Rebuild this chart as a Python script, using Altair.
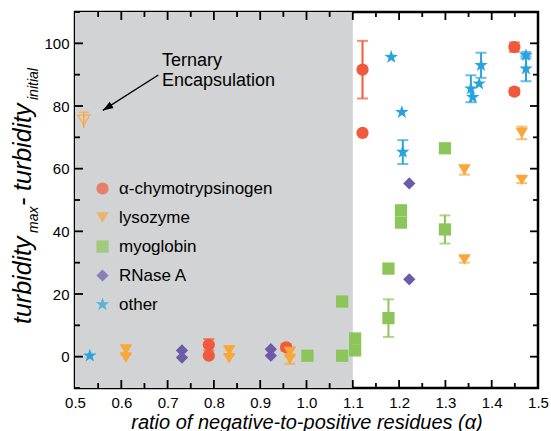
import altair as alt
import pandas as pd

# ---------------- data ----------------
series_names = ["α-chymotrypsinogen", "lysozyme", "myoglobin", "RNase A", "other"]
series_colors = ["#EF5A3C", "#F9A73B", "#8CC65A", "#6B5BA8", "#29A3DD"]

chymo_x = [0.789, 0.789, 0.956, 1.121, 1.121, 1.449, 1.449]
chymo_y = [3.8, 0.3, 3.0, 91.6, 71.4, 98.8, 84.6]
chymo_err = [1.8, 0, 1.0, 9.2, 0, 1.5, 1.0]

lyso_x = [0.610, 0.610, 0.833, 0.833, 0.964, 0.964, 1.341, 1.341, 1.465, 1.465]
lyso_y = [2.2, -0.3, 1.9, -0.5, 1.5, -0.8, 59.6, 31.0, 71.4, 56.4]
lyso_err = [1.5, 0, 1.5, 0, 1.5, 1.5, 1.5, 1.0, 2.0, 1.0]

myo_x = [1.002, 1.077, 1.077, 1.105, 1.105, 1.177, 1.177, 1.204, 1.204, 1.299, 1.299]
myo_y = [0.3, 0.3, 17.6, 5.8, 2.0, 28.1, 12.3, 46.7, 42.8, 66.5, 40.6]
myo_err = [0, 0, 0, 0, 0, 0, 6.0, 0, 0, 0, 4.5]

rnase_x = [0.731, 0.731, 0.923, 0.923, 1.222, 1.222]
rnase_y = [2.0, -0.3, 2.4, 0.3, 55.3, 24.7]
rnase_err = [0, 0, 0, 0, 0, 0]

other_x = [0.532, 1.183, 1.206, 1.208, 1.355, 1.359, 1.373, 1.377, 1.474, 1.474]
other_y = [0.3, 95.6, 78.0, 65.3, 85.5, 82.8, 87.1, 93.0, 96.2, 91.9]
other_err = [0, 0, 0, 3.8, 4.3, 0, 0, 4.0, 1.0, 4.0]

ternary_x = [0.519]
ternary_y = [75.5]
ternary_err = [2.5]

shade_start = [0.5]
shade_end = [1.1]

annot_text = ["Ternary", "Encapsulation"]
annot_x = [0.688, 0.688]
annot_y = [92.8, 86.4]

arrow_from_x = [0.680]
arrow_from_y = [89.9]
arrow_to_x = [0.560]
arrow_to_y = [78.6]

x_tick_labels = [0.5, 0.6, 0.7, 0.8, 0.9, 1.0, 1.1, 1.2, 1.3, 1.4, 1.5]
x_major_ticks = [0.6, 0.7, 0.8, 0.9, 1.0, 1.1, 1.2, 1.3, 1.4]
x_minor_ticks = [0.55, 0.65, 0.75, 0.85, 0.95, 1.05, 1.15, 1.25, 1.35, 1.45]
y_tick_labels = [0, 20, 40, 60, 80, 100]
y_minor_ticks = [-10, 10, 30, 50, 70, 90, 110]

# ---------------- build tables ----------------
star = ("M0,-1.15L0.27,-0.37L1.09,-0.36L0.44,0.14L0.68,0.93L0,0.46"
        "L-0.68,0.93L-0.44,0.14L-1.09,-0.36L-0.27,-0.37Z")
series_shapes = ["circle", "triangle-down", "square", "diamond", star]
series_sizes = [150, 150, 135, 240, 165]

rows = []
for name, xs, ys, es in zip(
    series_names,
    [chymo_x, lyso_x, myo_x, rnase_x, other_x],
    [chymo_y, lyso_y, myo_y, rnase_y, other_y],
    [chymo_err, lyso_err, myo_err, rnase_err, other_err],
):
    col = series_colors[series_names.index(name)]
    for x, y, e in zip(xs, ys, es):
        rows.append({"series": name, "x": x, "y": y, "err": e,
                     "lo": y - e, "hi": y + e, "hex": col})
pts = pd.DataFrame(rows)
errs = pts[pts["err"] > 0]

tern = pd.DataFrame({"x": ternary_x, "y": ternary_y,
                     "lo": [a - b for a, b in zip(ternary_y, ternary_err)],
                     "hi": [a + b for a, b in zip(ternary_y, ternary_err)]})
shade = pd.DataFrame({"x": shade_start, "x2": shade_end})
annot = pd.DataFrame({"t": annot_text, "x": annot_x, "y": annot_y})
arrow = pd.DataFrame({"x": arrow_from_x, "y": arrow_from_y,
                      "x2": arrow_to_x, "y2": arrow_to_y})

W, H = 463, 376
FONT = "Liberation Sans"

xs_ = alt.Scale(domain=[0.5, 1.5], nice=False, zero=False)
ys_ = alt.Scale(domain=[-10, 110], nice=False, zero=False)
xax = alt.Axis(values=x_tick_labels, format=".1f", ticks=False, domain=False,
               grid=False, labelPadding=7, labelFlush=False,
               title="ratio of negative-to-positive residues (α)",
               titleFontStyle="italic", titleFontWeight="normal",
               titleFontSize=20, titleFont=FONT, titleColor="black",
               titlePadding=2)
yax = alt.Axis(values=y_tick_labels, format="d", ticks=False, domain=False,
               grid=False, labelPadding=6, title=None, labelFlush=False)

X = lambda f="x": alt.X(f, type="quantitative", scale=xs_, axis=xax)
Y = lambda f="y": alt.Y(f, type="quantitative", scale=ys_, axis=yax)

shade_layer = alt.Chart(shade).mark_rect(color="#D1D3D4").encode(
    x=X("x"), x2="x2", y=alt.value(0), y2=alt.value(H))

err_rule = alt.Chart(errs).mark_rule(strokeWidth=2).encode(
    x=X(), y=Y("lo"), y2="hi", color=alt.Color("hex:N", scale=None))
cap_lo = alt.Chart(errs).mark_tick(orient="horizontal", size=11, thickness=2).encode(
    x=X(), y=Y("lo"), color=alt.Color("hex:N", scale=None))
cap_hi = alt.Chart(errs).mark_tick(orient="horizontal", size=11, thickness=2).encode(
    x=X(), y=Y("hi"), color=alt.Color("hex:N", scale=None))

legend = alt.Legend(title=None, orient="none", legendX=19, legendY=168,
                    labelFontSize=17, labelFont=FONT, labelColor="black",
                    symbolSize=140, rowPadding=11, labelOffset=8, padding=0,
                    symbolStrokeWidth=0, symbolOpacity=1, labelLimit=300)
points = alt.Chart(pts).mark_point(filled=True, opacity=1).encode(
    x=X(), y=Y(),
    color=alt.Color("series:N", scale=alt.Scale(domain=series_names, range=series_colors),
                    legend=legend),
    shape=alt.Shape("series:N", scale=alt.Scale(domain=series_names, range=series_shapes),
                    legend=legend),
    size=alt.Size("series:N", scale=alt.Scale(domain=series_names, range=series_sizes),
                  legend=None),
)

tern_rule = alt.Chart(tern).mark_rule(strokeWidth=1.5, color=series_colors[1]).encode(
    x=X(), y=Y("lo"), y2="hi")
tern_cap = alt.Chart(tern).mark_tick(orient="horizontal", size=10, thickness=1.5,
                                     color=series_colors[1]).encode(x=X(), y=Y("hi"))
tern_pt = alt.Chart(tern).mark_point(shape="triangle-down", size=140, filled=False,
                                     strokeWidth=1.6, color=series_colors[1]).encode(
    x=X(), y=Y())

annot_layer = alt.Chart(annot).mark_text(align="left", baseline="alphabetic",
                                         fontSize=18, font=FONT, color="black").encode(
    x=X(), y=Y(), text="t:N")
arrow_line = alt.Chart(arrow).mark_rule(strokeWidth=1.4, color="black").encode(
    x=X("x"), y=Y("y"), x2="x2", y2="y2")
arrow_head = alt.Chart(arrow).mark_point(shape="M0,0L-0.45,1.3L0.45,1.3Z", size=256,
                                         filled=True, color="black", opacity=1,
                                         angle=238).encode(x=X("x2"), y=Y("y2"))

# inward ticks on all four sides
def xticks(vals, length):
    d = pd.DataFrame({"v": vals})
    b = alt.Chart(d).mark_rule(strokeWidth=1.8, color="black").encode(
        x=X("v"), y=alt.value(H), y2=alt.value(H - length))
    t = alt.Chart(d).mark_rule(strokeWidth=1.8, color="black").encode(
        x=X("v"), y=alt.value(0), y2=alt.value(length))
    return [b, t]

def yticks(vals, length):
    d = pd.DataFrame({"v": vals})
    l = alt.Chart(d).mark_rule(strokeWidth=1.8, color="black").encode(
        y=Y("v"), x=alt.value(0), x2=alt.value(length))
    r = alt.Chart(d).mark_rule(strokeWidth=1.8, color="black").encode(
        y=Y("v"), x=alt.value(W), x2=alt.value(W - length))
    return [l, r]

tick_layers = (xticks(x_major_ticks, 8) + xticks(x_minor_ticks, 5)
               + yticks(y_tick_labels, 8) + yticks(y_minor_ticks, 5))

# y title with subscripts
def ytext(txt, px, py, size):
    return alt.Chart(pd.DataFrame({"t": [txt]})).mark_text(
        angle=270, align="left", baseline="alphabetic", fontSize=size,
        fontStyle="italic", font=FONT, color="black").encode(
        text="t:N", x=alt.value(px), y=alt.value(py))

ytitle = [
    ytext("turbidity", -44, 312, 25),
    ytext("max", -37, 221, 14),
    ytext("-", -44, 194, 25),
    ytext("turbidity", -44, 179, 25),
    ytext("initial", -37, 88, 14),
]

chart = alt.layer(
    shade_layer, *tick_layers, err_rule, cap_lo, cap_hi, points,
    tern_rule, tern_cap, tern_pt, annot_layer, arrow_line, arrow_head, *ytitle
).properties(
    width=W, height=H,
    padding={"left": 75, "top": 12, "right": 13, "bottom": 43},
    autosize=alt.AutoSizeParams(type="none"),
    background="white",
).configure_view(
    stroke="black", strokeWidth=2.5
).configure_axis(
    labelFont=FONT, labelFontSize=15, labelColor="black"
)

chart.save("out.html", embed_options={"renderer": "svg", "actions": False})
